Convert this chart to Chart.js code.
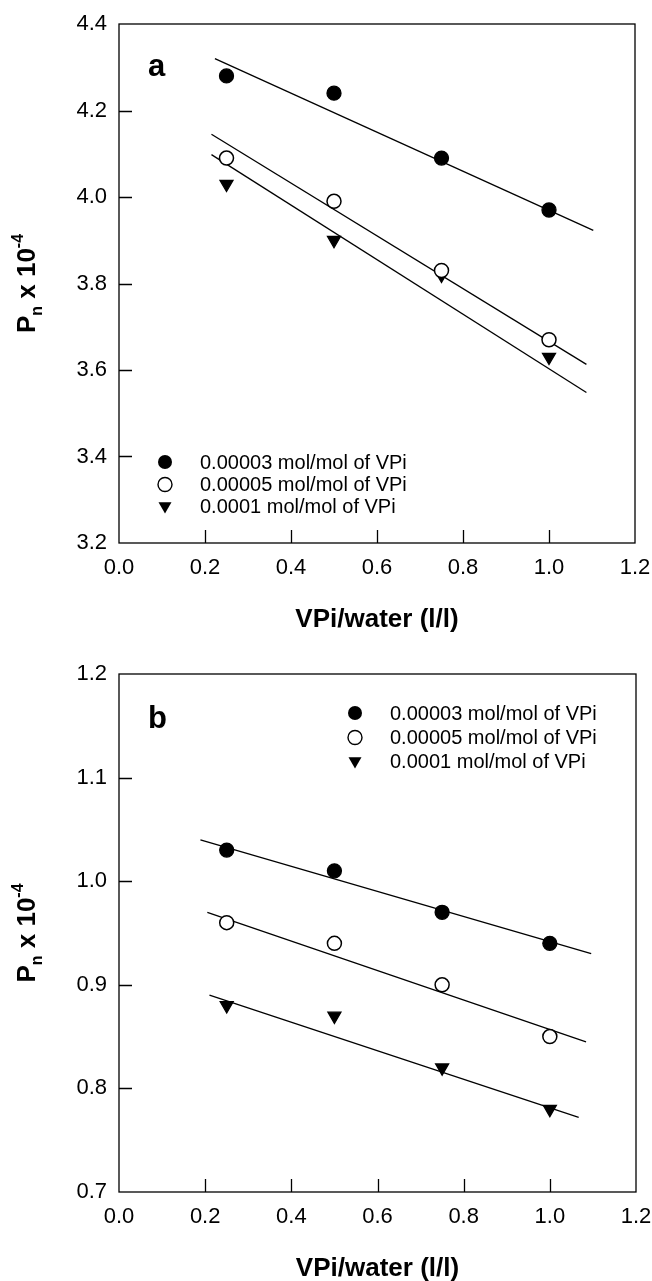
<!DOCTYPE html>
<html>
<head>
<meta charset="utf-8">
<script src="https://cdn.jsdelivr.net/npm/chart.js@4/dist/chart.umd.min.js"></script>
<style>
	html,body{margin:0;padding:0;background:#fff;}
	#wrap{position:relative;width:652px;height:1281px;}
	#boxA{position:absolute;left:0;top:0;width:652px;height:640px;}
	#boxB{position:absolute;left:0;top:640px;width:652px;height:641px;}
</style>
</head>
<body>
<div id="wrap">
	<div id="boxA"><canvas id="chartA" width="652" height="640"></canvas></div>
	<div id="boxB"><canvas id="chartB" width="652" height="641"></canvas></div>
</div>
<script>
// 数据
var xVals = [0.25, 0.5, 0.75, 1.0];
var seriesNames = ["0.00003 mol/mol of VPi", "0.00005 mol/mol of VPi", "0.0001 mol/mol of VPi"];

// 图 a
var a1 = [4.28, 4.24, 4.09, 3.97];
var a2 = [4.09, 3.99, 3.83, 3.67];
var a3 = [4.03, 3.90, 3.82, 3.63];
// 图 a 拟合线 (两端点)
var fitA1x = [0.223, 1.103], fitA1y = [4.320, 3.923];
var fitA2x = [0.215, 1.087], fitA2y = [4.145, 3.613];
var fitA3x = [0.215, 1.087], fitA3y = [4.098, 3.548];
var yTicksA = [3.2, 4.4, 0.2];

// 图 b
var b1 = [1.03, 1.01, 0.97, 0.94];
var b2 = [0.96, 0.94, 0.90, 0.85];
var b3 = [0.88, 0.87, 0.82, 0.78];
var fitB1x = [0.189, 1.096], fitB1y = [1.040, 0.930];
var fitB2x = [0.205, 1.084], fitB2y = [0.970, 0.845];
var fitB3x = [0.210, 1.067], fitB3y = [0.890, 0.772];
var yTicksB = [0.7, 1.2, 0.1];

var xTicks = [0, 1.2, 0.2];

var FONT = "'Liberation Sans', Arial, sans-serif";

function pts(xs, ys){
	var out = [];
	for(var i=0;i<xs.length;i++){
		out.push({x: xs[i], y: ys[i]});
	}
	return out;
}

function markerSet(ys, style){
	var ds = {
		type: 'scatter',
		data: pts(xVals, ys),
		pointRadius: 7,
		pointBorderColor: '#000',
		pointBorderWidth: 1.3,
		pointBackgroundColor: '#000',
		order: 1
	};
	if(style == 'open'){
		ds.pointBackgroundColor = '#fff';
		ds.pointBorderWidth = 1.5;
	}
	if(style == 'tri'){
		ds.pointStyle = 'triangle';
		ds.pointRotation = 180;
		ds.pointRadius = 7.5;
	}
	return ds;
}

function fitSet(xs, ys){
	return {
		type: 'line',
		data: pts(xs, ys),
		borderColor: '#000',
		borderWidth: 1.3,
		pointRadius: 0,
		fill: false,
		order: 2
	};
}

// 图例符号
function drawMark(ctx, style, x, y){
	ctx.save();
	ctx.lineWidth = 1.4;
	ctx.strokeStyle = '#000';
	ctx.fillStyle = '#000';
	if(style == 'tri'){
		var r = 7.5, w = r*Math.cos(Math.PI/6);
		ctx.beginPath();
		ctx.moveTo(x - w, y - r/2);
		ctx.lineTo(x + w, y - r/2);
		ctx.lineTo(x, y + r);
		ctx.closePath();
		ctx.fill();
	}else{
		ctx.beginPath();
		ctx.arc(x, y, 7, 0, Math.PI*2);
		if(style == 'open'){
			ctx.fillStyle = '#fff';
			ctx.fill();
			ctx.stroke();
		}else{
			ctx.fill();
		}
	}
	ctx.restore();
}

// 边框 刻度 标题 图例
var framePlugin = {
	id: 'frame',
	afterDatasetsDraw: function(chart, args, opts){
		var ctx = chart.ctx;
		var ca = chart.chartArea;
		var sx = chart.scales.x, sy = chart.scales.y;
		ctx.save();
		ctx.strokeStyle = '#000';
		ctx.lineWidth = 1.3;
		ctx.strokeRect(ca.left, ca.top, ca.right - ca.left, ca.bottom - ca.top);
		// 内向刻度
		ctx.beginPath();
		sx.ticks.forEach(function(t){
			if(t.value <= sx.min + 1e-6 || t.value >= sx.max - 1e-6) return;
			var px = Math.round(sx.getPixelForValue(t.value)) + 0.5;
			ctx.moveTo(px, ca.bottom);
			ctx.lineTo(px, ca.bottom - 13);
		});
		sy.ticks.forEach(function(t){
			if(t.value <= sy.min + 1e-6 || t.value >= sy.max - 1e-6) return;
			var py = Math.round(sy.getPixelForValue(t.value)) + 0.5;
			ctx.moveTo(ca.left, py);
			ctx.lineTo(ca.left + 13, py);
		});
		ctx.stroke();

		ctx.fillStyle = '#000';
		// x 轴标题
		ctx.font = 'bold 26px ' + FONT;
		ctx.textAlign = 'center';
		ctx.textBaseline = 'alphabetic';
		ctx.fillText('VPi/water (l/l)', (ca.left + ca.right)/2, ca.bottom + 84);

		// y 轴标题 P_n x 10^-4
		ctx.save();
		ctx.translate(35, (ca.top + ca.bottom)/2);
		ctx.rotate(-Math.PI/2);
		ctx.textAlign = 'left';
		var big = 'bold 26px ' + FONT, small = 'bold 16px ' + FONT;
		var parts = [['P', big, 0], ['n', small, 7], [' x 10', big, 0], ['-4', small, -12]];
		var total = 0;
		parts.forEach(function(p){ ctx.font = p[1]; total += ctx.measureText(p[0]).width; });
		var cx = -total/2;
		parts.forEach(function(p){
			ctx.font = p[1];
			ctx.fillText(p[0], cx, p[2]);
			cx += ctx.measureText(p[0]).width;
		});
		ctx.restore();

		// 图号
		ctx.font = 'bold 31px ' + FONT;
		ctx.textAlign = 'left';
		ctx.fillText(opts.letter, 148, opts.letterY);

		// 图例
		var styles = ['fill', 'open', 'tri'];
		ctx.font = '20px ' + FONT;
		ctx.textBaseline = 'middle';
		for(var i=0;i<3;i++){
			drawMark(ctx, styles[i], opts.legX, opts.legY[i]);
			ctx.fillText(seriesNames[i], opts.legX + 35, opts.legY[i] + 1);
		}
		ctx.restore();
	}
};

function makeChart(id, sets, yt, pad, plugOpts){
	var xs = 60;
	return new Chart(document.getElementById(id), {
		data: {datasets: sets},
		plugins: [framePlugin],
		options: {
			responsive: false,
			animation: false,
			events: [],
			layout: {padding: pad},
			plugins: {
				legend: {display: false},
				tooltip: {enabled: false},
				frame: plugOpts
			},
			scales: {
				x: {
					type: 'linear',
					min: xTicks[0], max: xTicks[1],
					grid: {display: false, drawTicks: false},
					border: {display: false},
					ticks: {
						stepSize: xTicks[2],
						padding: 12,
						color: '#000',
						font: {family: FONT, size: 22},
						callback: function(v){ return Number(v).toFixed(1); }
					},
					afterFit: function(s){ s.height = xs; s.paddingLeft = 0; s.paddingRight = 0; }
				},
				y: {
					type: 'linear',
					min: yt[0], max: yt[1],
					grid: {display: false, drawTicks: false},
					border: {display: false},
					ticks: {
						stepSize: yt[2],
						padding: 12,
						color: '#000',
						font: {family: FONT, size: 22},
						callback: function(v){ return Number(v).toFixed(1); }
					},
					afterFit: function(s){ s.width = 119; s.paddingTop = 0; s.paddingBottom = 0; }
				}
			}
		}
	});
}

var setsA = [
	fitSet(fitA1x, fitA1y), fitSet(fitA2x, fitA2y), fitSet(fitA3x, fitA3y),
	markerSet(a1, 'fill'), markerSet(a2, 'open'), markerSet(a3, 'tri')
];
var setsB = [
	fitSet(fitB1x, fitB1y), fitSet(fitB2x, fitB2y), fitSet(fitB3x, fitB3y),
	markerSet(b1, 'fill'), markerSet(b2, 'open'), markerSet(b3, 'tri')
];

makeChart('chartA', setsA, yTicksA, {left: 0, top: 24, right: 17, bottom: 37},
	{letter: 'a', letterY: 76, legX: 165, legY: [462, 484.5, 506]});
makeChart('chartB', setsB, yTicksB, {left: 0, top: 34, right: 16, bottom: 29},
	{letter: 'b', letterY: 88, legX: 355, legY: [73, 97.5, 121]});
</script>
</body>
</html>
